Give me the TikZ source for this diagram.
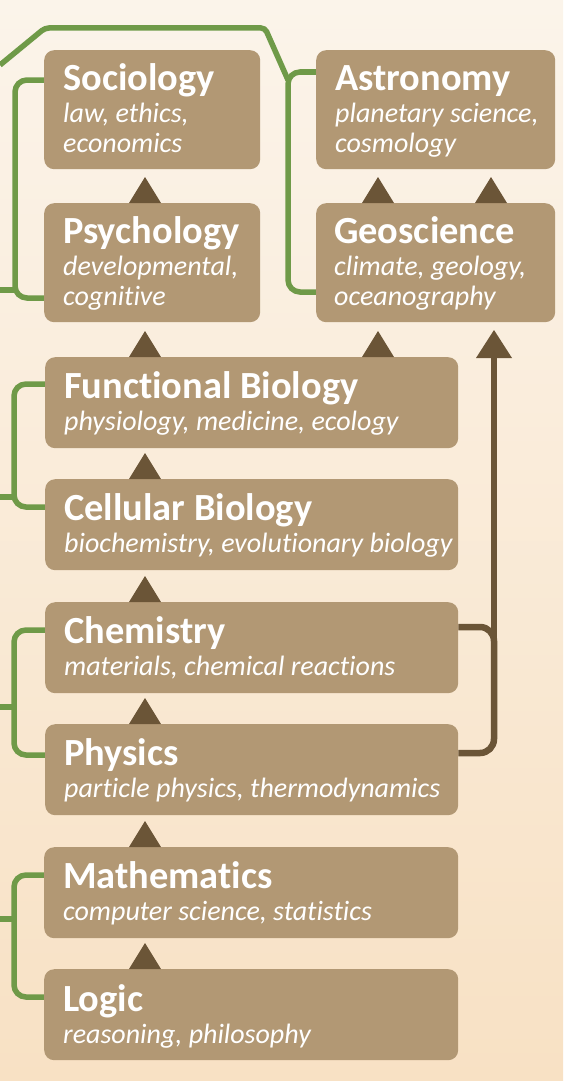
\documentclass[tikz,border=0pt]{standalone}
\usepackage{fontspec}
\setmainfont{Carlito}[Ligatures=NoCommon]
\usetikzlibrary{calc}
\definecolor{bgtop}{HTML}{FBF4EA}
\definecolor{bgbot}{HTML}{F8E1C4}
\definecolor{boxc}{HTML}{B29874}
\definecolor{tric}{HTML}{6B5537}
\definecolor{grnc}{HTML}{6F9A48}
\tikzset{
 box/.style={fill=boxc, rounded corners=10pt, inner sep=0pt, anchor=north west},
 ttl/.style={text=white, font=\fontsize{38.4}{40}\selectfont\bfseries, anchor=base west, inner sep=0pt},
 sub/.style={text=white, font=\fontsize{28}{30}\selectfont\itshape, anchor=base west, inner sep=0pt},
 grn/.style={draw=grnc, line width=5.5pt, rounded corners=12pt},
 brn/.style={draw=tric, line width=6.5pt},
 tri/.style={fill=tric},
}
\newcommand\uptri[3][16]{\fill[tri] (#2-#1,0 |- #3.north) -- ++(#1,-26) -- ++(#1,26) -- cycle;}
\begin{document}
\begin{tikzpicture}[x=1pt,y=-1pt]
\useasboundingbox (0,0) rectangle (563,1081);
\shade[top color=bgtop, bottom color=bgbot] (0,0) rectangle (563,1081);

% connector end points at the left edge and junctions
\coordinate (e1) at (0,65);
\coordinate (j1) at (288,80);
\coordinate (s1) at (0,290);
\coordinate (s2) at (0,497);
\coordinate (s3) at (0,707);
\coordinate (s4) at (0,919);
\coordinate (tip) at (494,330);

% green connectors
\draw[grn, rounded corners=4pt] (e1) -- (45,28) -- (265,28) -- (j1);
\draw[grn] (316,72) -- (288,72) -- (288,292) -- (316,292);
\draw[grn] (44,80) -- (15,80) -- (15,298) -- (44,298);
\draw[grn, rounded corners=0pt] (s1) -- (15,290);
\draw[grn] (45,384) -- (14,384) -- (14,507) -- (45,507);
\draw[grn, rounded corners=0pt] (s2) -- (14,497);
\draw[grn] (45,630) -- (14,630) -- (14,755) -- (45,755);
\draw[grn, rounded corners=0pt] (s3) -- (14,707);
\draw[grn] (44,875) -- (14,875) -- (14,997) -- (44,997);
\draw[grn, rounded corners=0pt] (s4) -- (14,919);

% boxes
\node[box, minimum width=216pt, minimum height=119pt] (soc) at (44,50) {};
\node[box, minimum width=239pt, minimum height=119pt] (ast) at (316,50) {};
\node[box, minimum width=216pt, minimum height=119pt] (psy) at (44,203) {};
\node[box, minimum width=239pt, minimum height=119pt] (geo) at (316,203) {};
\node[box, minimum width=413pt, minimum height=91pt] (fun) at (45,357) {};
\node[box, minimum width=413pt, minimum height=91pt] (cel) at (45,479) {};
\node[box, minimum width=413pt, minimum height=91pt] (chem) at (45,602) {};
\node[box, minimum width=413pt, minimum height=91pt] (phys) at (45,724) {};
\node[box, minimum width=414pt, minimum height=91pt] (math) at (44,847) {};
\node[box, minimum width=414pt, minimum height=91pt] (logic) at (44,969) {};

% brown connector: chemistry & physics -> geoscience
\draw[brn, rounded corners=14pt] ([yshift=-25pt]chem.north east) -- (494,627) -- (494,753) -- ([yshift=-29pt]phys.north east);
\draw[brn] (494,640) -- (494,354);
\fill[tri] ([xshift=-18pt,yshift=-28pt]tip) -- (tip) -- ([xshift=18pt,yshift=-28pt]tip) -- cycle;

% texts
\node[ttl] (soc-t) at (63,90) {Sociology};
\node[sub] (soc-a) at (63,122) {law, ethics,};
\node[sub] (soc-b) at (63,152) {economics};
\node[ttl] (ast-t) at (335,90) {Astronomy};
\node[sub] (ast-a) at (335,122) {planetary science,};
\node[sub] (ast-b) at (335,152) {cosmology};
\node[ttl] (psy-t) at (63,243) {Psychology};
\node[sub] (psy-a) at (63,275) {developmental,};
\node[sub] (psy-b) at (63,305) {cognitive};
\node[ttl] (geo-t) at (334,243) {Geoscience};
\node[sub] (geo-a) at (334,275) {climate, geology,};
\node[sub] (geo-b) at (334,305) {oceanography};
\node[ttl] (fun-t) at (64,398) {Functional Biology};
\node[sub] (fun-a) at (64,430) {physiology, medicine, ecology};
\node[ttl] (cel-t) at (64,520) {Cellular Biology};
\node[sub] (cel-a) at (64,552) {biochemistry, evolutionary biology};
\node[ttl] (chem-t) at (64,643) {Chemistry};
\node[sub] (chem-a) at (64,675) {materials, chemical reactions};
\node[ttl] (phys-t) at (64,765) {Physics};
\node[sub] (phys-a) at (64,797) {particle physics, thermodynamics};
\node[ttl] (math-t) at (63,888) {Mathematics};
\node[sub] (math-a) at (63,920) {computer science, statistics};
\node[ttl] (logic-t) at (63,1011) {Logic};
\node[sub] (logic-a) at (63,1043) {reasoning, philosophy};

% arrowheads
\uptri{145}{psy}
\uptri{145}{fun}
\uptri{145}{cel}
\uptri{145}{chem}
\uptri{145}{phys}
\uptri{145}{math}
\uptri{145}{logic}
\uptri{378}{geo}
\uptri{491}{geo}
\uptri{378}{fun}
\end{tikzpicture}
\end{document}
